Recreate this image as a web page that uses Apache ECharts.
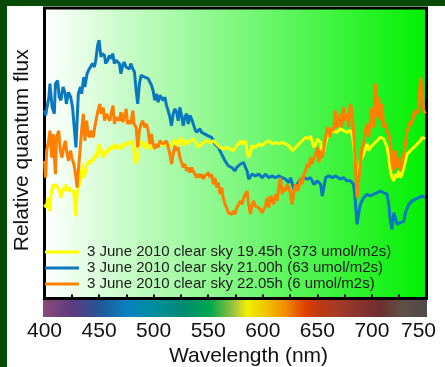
<!DOCTYPE html>
<html>
<head>
<meta charset="utf-8">
<script src="https://cdn.jsdelivr.net/npm/echarts@6/dist/echarts.min.js"></script>
<style>html,body{margin:0;padding:0;background:#fff;}#c{width:445px;height:367px;}</style>
</head>
<body>
<div id="c"></div>
<script>
// Series names
var seriesNames = [
  '3 June 2010 clear sky 19.45h (373 umol/m2s)',
  '3 June 2010 clear sky 21.00h (63 umol/m2s)',
  '3 June 2010 clear sky 22.05h (6 umol/m2s)'
];
// X tick labels
var xTicks = [400, 450, 500, 550, 600, 650, 700, 750];

// 19.45h (yellow)
var wl1945 = [400,401.7,403,404.8,406,407.8,409,410.8,412,413.8,415,416.8,418,419.9,421,422.9,424,425.9,427,428.8,430,431.8,433,434.8,436,437.8,439,440.8,442,443.8,445,446.8,448,449.8,451,452.8,454,455.8,457,458.8,460,461.8,463,464.8,466,467.8,469,470.9,472,473.9,475,476.9,478,479.9,481,482.9,484,486,487,488.8,
490.4,491.9,493.4,495,496.5,498,499.5,501,502.6,504.1,505.7,507.2,508.7,510.3,511.8,513.3,514.9,516.4,517.9,519.5,521,522.5,524,525.6,527.1,528.6,530.2,531.7,533.2,534.8,536.3,539.4,540.9,542.4,543.9,545.5,548.5,551.6,554.7,557.7,560.8,563.8,566.9,570,573,576.1,
578,579.5,581,582.5,584.1,585.6,587.1,588.6,590.2,593.2,596.3,599.4,602.4,605.5,608.6,611.6,614.7,617.7,620.8,623.9,627,630,633.1,636.1,639.2,642.2,643.8,646.8,648.4,649.9,651.4,653,654.5,656,657.5,659.1,660.6,
661.8,664.9,667.9,671,674,677.1,680.2,681.7,683.2,684.8,686.3,687.8,689.4,692.4,695.5,697,698.5,701.6,704.7,707.7,710.8,712.3,713.9,715.4,716.9,718.4,720,721.5,723,724.6,726.1,727.6,729.2,730.7,732.2,735.3,738.4,741.4,744.5,746,749];
var flux1945 = [32.4,31.3,34.7,30.1,35.9,39.3,38.2,39.3,38.2,37,34.7,38.2,37,39.3,37,38.2,37,37,35.9,28.4,37,39.3,40.5,46.3,41.6,43.9,46.3,47.4,46.3,48.5,47.4,49.7,48.5,53.2,52,49.7,48.5,50.9,49.7,52,50.9,52.6,51.5,53.2,51.5,52.6,53.2,51.5,53.2,52.6,53.7,53.2,53.7,54.3,53.2,48.5,46.3,50.9,54.3,54.3,
53.2,51.5,53.7,52.6,53.2,51.5,50.9,52.6,53.2,52.6,53.7,54.3,52.6,53.2,53.7,52.6,53.2,52.6,53.7,54.9,52.6,54.3,53.2,55.5,52.6,54.3,54.9,53.2,54.3,54.3,54.9,53.2,52,52.6,53.2,53.7,54.3,53.7,54.3,53.2,52,51.5,52,51.5,50.9,52.6,
53.2,54.3,53.2,53.7,54.3,50.9,48.5,50.3,52.6,52,53.2,52.6,53.7,54.3,53.2,53.7,53.2,53.7,53.2,52.6,50.9,52,53.2,54.3,55.5,54.9,56,52,53.2,54.9,55.5,53.7,49.7,50.9,53.7,55.5,57.8,
56.6,57.8,57.2,58.4,57.8,57.2,57.8,56.6,53.2,46.3,42.8,43.9,47.4,49.7,53.2,50.9,52,53.2,54.3,55.5,54.9,54.3,52,48.5,43.9,41.6,40.5,42.8,41.6,43.9,41.6,42.8,45.1,47.4,49.7,50.9,52,53.2,54.3,55.5,54.9];

// 21.00h (blue)
var wl2100 = [400,401,404,405,407,409,410,412,413.5,415,417,419,420,422,424,425.7,427,428.8,430,431,433,434,436,437,439,441,442.5,444,445.7,447,448.7,450,451.7,453,455,456,458,459.4,461,462.5,464,465.5,467,468.6,470,471.7,473,474.7,476,477.8,479,481,482.4,484,485.4,487,488.5,490,
491.9,493.4,495,498,499.5,501,502.6,504.1,505.7,507.2,508.7,510.3,511.8,513.3,514.9,516.4,517.9,519.5,521,522.5,524,525.6,527.1,528.6,530.2,531.7,533.2,534.8,536.3,537.8,539.4,540.9,542.4,543.9,547,550,553.1,556.2,559.3,562.3,565.4,568.4,571.5,574.6,576.1,
579.5,582.5,584.1,585.6,587.1,588.6,590.2,593.2,596.3,599.4,602.4,605.5,608.6,611.6,614.7,617.7,620.8,623.9,625.4,628.5,631.5,634.6,637.6,640.7,643.8,646.8,649.9,653,654.5,656,657.5,660.6,663.7,666.7,
667.9,671,674,677.1,680.2,681.7,683.2,684.8,686.3,687.8,689.4,692.4,695.5,698.5,701.6,704.7,707.7,710.8,713.9,715.4,716.9,718.4,720,721.5,723,726.1,729.2,730.7,733.8,736.8,739.9,743,746,749];
var flux2100 = [64.7,63,69.3,74,65.8,63.6,74,75,69.3,68.2,72.8,70.5,67,71,69.3,65.8,60,52,62.4,70.5,72.8,70.5,76.2,72.8,77.4,79,78.5,80.9,79.7,82,87.2,88.9,83.2,84.3,83.7,80.9,82,83.7,82.6,84.3,80.9,82,82.6,80.9,77.4,80.3,81.4,79.7,80.3,79,80.9,79,78,71.6,67,74,76.8,76.2,
76.2,76.8,75.7,73.4,71.6,68.2,70.5,67.6,69.9,70.5,68.2,69.3,66.4,64.7,62.4,59.5,63.6,65.3,64.1,61.2,65.8,63,59.5,62.4,63.6,60.1,63,61.8,60.1,58.4,57.2,57.8,58.4,57.2,56.6,56,55.5,53.2,52,49.7,47.4,45.7,45.1,43.9,45.1,
46.3,46.8,45.1,43.9,41.1,40.5,42.8,42.2,42.8,41.6,42.8,41.6,42.2,41.6,42.2,41.6,41.1,39.9,41.6,37.6,39.3,41.1,41.6,41.1,41.6,39.3,40.5,39.3,35.3,38.2,41.6,42.2,41.6,42.2,
42.2,41.1,41.6,40.5,40.5,39.9,39.3,33.6,25.5,29,32.4,34.7,35.9,35.3,35.9,36.4,37,36.4,35.9,32.4,26.6,23.8,29.5,27.8,25.5,26.1,26.6,29.5,32.4,33.6,34.2,34.7,35.3,34.7];

// 22.05h (orange)
var wl2205 = [400,401,402,403.7,405,406.6,408,410,411,413,414.5,416,417.6,419,420.7,422,423.8,425,426.8,428,429.9,431,432,434,435.6,437,438.6,440,441.6,443,444.7,446,447.7,449,450.7,452,453.8,455,456.8,458,459.8,461,462.8,464,465.8,467,468.8,470,471.9,473,474.9,476,477.9,479,481,482,484,485.4,487,488.5,490,
491.9,493.4,495,496.5,498,499.5,501,502.6,504.1,505.7,507.2,508.7,510.3,511.8,513.3,514.9,516.4,517.9,519.5,521,522.5,524,525.6,527.1,528.6,530.2,531.7,533.2,534.8,536.3,537.8,539.4,540.9,542.4,543.9,545.5,547,548.5,550.1,551.6,553.1,554.7,556.2,557.7,559.3,560.8,562.3,563.8,565.4,566.9,568.4,570,571.5,573,574.6,576.1,
578,579.5,581,582.5,584.1,585.6,587.1,588.6,590.2,591.7,593.2,594.8,596.3,597.8,599.4,600.9,602.4,604,605.5,607,608.6,610.1,611.6,613.1,614.7,616.2,617.7,619.3,620.8,622.3,623.9,625.4,627,628.5,630,631.5,633.1,634.6,636.1,637.6,639.2,640.7,642.2,643.8,645.3,646.8,648.4,649.9,651.4,653,654.5,656,657.5,659.1,660.6,
661.8,663.3,664.9,666.4,667.9,669.5,671,672.5,674,675.6,677.1,678.6,680.2,681.7,683.2,684.8,686.3,687.8,689.4,690.9,692.4,694,695.5,697,698.5,700.1,701.6,703.1,704.7,706.2,707.7,709.3,710.8,712.3,713.9,715.4,716.9,718.4,720,721.5,723,724.6,726.1,727.6,729.2,730.7,732.2,733.8,735.3,736.8,738.4,739.9,741.4,743,744.5,746,747.5,749];
var flux2205 = [47.4,41.6,50.9,54.3,57.8,48.5,56.6,42.8,55.5,57.8,50.9,48.5,52,54.3,49.7,47.4,50.9,48.5,46.3,43.9,38.2,43.9,48.5,57.8,63.6,54.3,61.2,56.6,55.5,57.8,55.5,58.9,59.5,64.7,67,63.6,65.8,61.2,63.6,62.4,61.2,63.6,66.4,60.1,62.4,63,61.2,64.1,60.7,62.4,65.3,60.1,61.2,60.1,64.7,60.1,58.9,52,57.8,60.1,61.2,
58.9,60.1,57.8,53.2,56.6,53.2,51.5,53.2,52,54.3,54.9,53.2,53.7,54.3,52,49.7,46.3,49.7,52.6,50.9,52,48.5,46.8,45.1,46.3,43.9,45.1,43.4,45.1,43.9,42.8,41.6,42.8,41.6,42.8,41.1,42.2,41.6,43.4,41.6,42.8,39.3,41.6,38.2,39.9,35.9,38.2,34.7,32.4,31.3,29.5,30.1,29,30.1,29,31.3,
32.4,33.6,32.4,34.7,35.9,37,32.4,29,32.4,33.6,31.8,32.4,31.3,31.8,29.5,30.7,31.8,34.7,31.3,35.3,34.2,32.4,35.9,33.6,38.2,41.6,35.9,38.2,37,39.3,38.2,35.9,32.4,37,39.3,37,38.2,41.6,39.3,42.8,43.9,46.3,45.1,48.5,46.3,48.5,49.7,52,46.8,50.9,48.5,52,55.5,58.9,57.8,
55.5,58.9,57.8,64.7,58.9,60.1,63.6,58.9,65.8,61.2,63.6,58.9,67,64.7,57.8,46.3,34.7,40.5,46.3,52,53.2,57.8,60.1,55.5,61.2,65.8,58.9,74,62.4,69.3,61.2,67,58.9,60.1,57.8,56.6,54.3,46.3,43.9,50.9,45.1,48.5,43.9,46.3,49.7,53.2,57.8,58.9,61.2,60.1,63.6,64.7,63.6,65.8,76.2,71.6,64.7,63.6];

function pairs(w, v) { return w.map(function (x, i) { return [x, v[i]]; }); }

var FONT = '"Liberation Sans", Arial, sans-serif';
var chart = echarts.init(document.getElementById('c'), null, { renderer: 'canvas' });

chart.setOption({
  animation: false,
  backgroundColor: '#ffffff',
  textStyle: { fontFamily: FONT },
  graphic: [
    { type: 'rect', left: 0, top: 0, shape: { width: 445, height: 6 }, style: { fill: '#054a05' }, z: 100 },
    { type: 'rect', left: 0, top: 0, shape: { width: 7, height: 367 }, style: { fill: '#054a05' }, z: 100 },
    { type: 'rect', left: 43, top: 300, shape: { width: 384, height: 17 }, z: 100,
      style: { fill: new echarts.graphic.LinearGradient(0, 0, 1, 0, [
        { offset: 0, color: '#8a4a7a' }, { offset: 0.078, color: '#5c3a80' },
        { offset: 0.154, color: '#1f5a98' }, { offset: 0.217, color: '#0a80c0' },
        { offset: 0.288, color: '#008ea0' }, { offset: 0.365, color: '#008a70' },
        { offset: 0.436, color: '#00a850' }, { offset: 0.473, color: '#60b840' },
        { offset: 0.501, color: '#a8c840' }, { offset: 0.532, color: '#f0f000' },
        { offset: 0.584, color: '#f0c000' }, { offset: 0.629, color: '#f09000' },
        { offset: 0.683, color: '#e04000' }, { offset: 0.714, color: '#c03a10' },
        { offset: 0.776, color: '#a03a28' }, { offset: 0.845, color: '#803030' },
        { offset: 0.882, color: '#6c3030' }, { offset: 0.933, color: '#605048' },
        { offset: 1, color: '#4e4a48' }
      ]) } }
  ],
  grid: {
    left: 44.5, right: 18.5, top: 8, bottom: 68.5,
    outerBoundsMode: 'none', containLabel: false,
    show: true, borderColor: '#000', borderWidth: 3,
    backgroundColor: new echarts.graphic.LinearGradient(0, 0, 1, 0, [
      { offset: 0, color: '#ffffff' }, { offset: 1, color: '#00f000' }
    ])
  },
  legend: {
    orient: 'vertical', left: 45, top: 244.5, padding: 0,
    itemWidth: 34, itemHeight: 3, itemGap: 1, icon: 'rect',
    data: seriesNames,
    textStyle: { fontSize: 15, color: '#1a1a1a', fontFamily: FONT, lineHeight: 15, padding: [0, 0, 0, 3] }
  },
  xAxis: {
    type: 'value', min: 400, max: 750, interval: 25,
    name: 'Wavelength (nm)', nameLocation: 'middle', nameGap: 47,
    nameMoveOverlap: false,
    nameTextStyle: { fontSize: 21, color: '#111', fontFamily: FONT, padding: [0, 0, 0, 26] },
    axisLine: { show: false },
    axisTick: { show: true, inside: true, length: 4, lineStyle: { color: '#000', width: 2 } },
    splitLine: { show: false },
    axisLabel: {
      margin: 22, fontSize: 21, color: '#111', fontFamily: FONT,
      formatter: function (v) {
        if (xTicks.indexOf(v) < 0) return '';
        return v === 750 ? '{r|750}' : String(v);
      },
      rich: { r: { fontSize: 21, color: '#111', fontFamily: FONT, padding: [0, 16, 0, 0] } }
    }
  },
  yAxis: {
    type: 'value', min: 0, max: 100,
    name: 'Relative quantum flux', nameLocation: 'middle', nameGap: 12,
    nameTextStyle: { fontSize: 21, color: '#111', fontFamily: FONT, padding: [0, 0, 0, 6] },
    axisLine: { show: false }, axisTick: { show: false },
    axisLabel: { show: false }, splitLine: { show: false }
  },
  series: [
    { name: seriesNames[1], type: 'line', data: pairs(wl2100, flux2100), showSymbol: false, symbol: 'none',
      lineStyle: { color: '#0a78c0', width: 3 }, itemStyle: { color: '#0a78c0' }, z: 3 },
    { name: seriesNames[0], type: 'line', data: pairs(wl1945, flux1945), showSymbol: false, symbol: 'none',
      lineStyle: { color: '#ffff00', width: 3 }, itemStyle: { color: '#ffff00' }, z: 4 },
    { name: seriesNames[2], type: 'line', data: pairs(wl2205, flux2205), showSymbol: false, symbol: 'none',
      lineStyle: { color: '#ff8000', width: 3 }, itemStyle: { color: '#ff8000' }, z: 5 }
  ]
});
</script>
</body>
</html>
